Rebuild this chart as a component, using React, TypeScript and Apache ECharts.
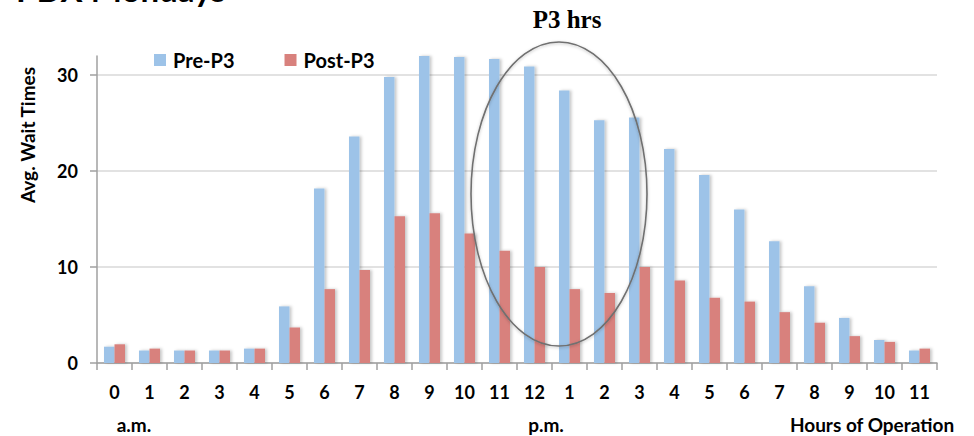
import React, { useEffect, useRef } from "react";
import * as echarts from "echarts";

const hours = ["0","1","2","3","4","5","6","7","8","9","10","11","12","1","2","3","4","5","6","7","8","9","10","11"];
const preP3 = [1.7,1.3,1.3,1.3,1.5,5.9,18.2,23.6,29.8,32.0,31.9,31.7,30.9,28.4,25.3,25.6,22.3,19.6,16.0,12.7,8.0,4.7,2.4,1.3];
const postP3 = [1.95,1.5,1.3,1.3,1.5,3.7,7.7,9.7,15.3,15.6,13.5,11.7,10.0,7.7,7.3,10.0,8.6,6.8,6.4,5.3,4.2,2.8,2.2,1.5];
const seriesNames = ["Pre-P3", "Post-P3"];

const FONT = "Lato, 'Open Sans', sans-serif";

export default function App() {
  const ref = useRef<HTMLDivElement>(null);
  useEffect(() => {
    if (!ref.current) return;
    const chart = echarts.init(ref.current, null, { renderer: "svg" });
    const barStyle = (color: string) => ({
      color,
      shadowBlur: 3,
      shadowColor: "rgba(0,0,0,0.22)",
      shadowOffsetX: 2,
      shadowOffsetY: 0,
    });
    chart.setOption({
      animation: false,
      backgroundColor: "#ffffff",
      textStyle: { fontFamily: FONT },
      grid: { left: 97, right: 37, top: 56, bottom: 73, containLabel: false },
      legend: {
        data: seriesNames,
        left: 149,
        top: 45,
        itemWidth: 12,
        itemHeight: 12,
        itemGap: 50,
        icon: "rect",
        textStyle: { fontFamily: FONT, fontWeight: "bold", fontSize: 20, color: "#000", padding: [0, 0, 0, 2] },
      },
      xAxis: {
        type: "category",
        data: hours,
        boundaryGap: true,
        axisLine: { lineStyle: { color: "#a0a0a0", width: 1.5 } },
        axisTick: { show: true, length: 7, lineStyle: { color: "#a0a0a0", width: 1.5 } },
        axisLabel: { color: "#000", fontWeight: "bold", fontSize: 18, fontFamily: FONT, margin: 20, interval: 0 },
        splitLine: { show: false },
      },
      yAxis: {
        type: "value",
        min: 0,
        max: 32,
        interval: 10,
        axisLine: { show: true, lineStyle: { color: "#a0a0a0", width: 1.5 } },
        axisTick: { show: true, length: 7, lineStyle: { color: "#a0a0a0", width: 1.5 } },
        axisLabel: { color: "#000", fontWeight: "bold", fontSize: 18, fontFamily: FONT, margin: 19, showMaxLabel: false },
        splitLine: { show: true, showMaxLine: false, lineStyle: { color: "#d9d9d9", width: 1.5 } },
      },
      series: [
        {
          name: seriesNames[0],
          type: "bar",
          data: preP3,
          barGap: "0%",
          barCategoryGap: "40%",
          itemStyle: barStyle("#9DC3E8"),
        },
        {
          name: seriesNames[1],
          type: "bar",
          data: postP3,
          barGap: "0%",
          barCategoryGap: "40%",
          itemStyle: barStyle("#D8817D"),
        },
      ],
      graphic: [
        {
          type: "text",
          left: 16,
          top: -28,
          style: { text: "PDX Mondays", font: `bold 33px ${FONT}`, fill: "#000" },
        },
        {
          type: "text",
          x: 27,
          y: 135,
          rotation: Math.PI / 2,
          style: {
            text: "Avg. Wait Times",
            font: `bold 19px ${FONT}`,
            fill: "#000",
            align: "center",
            verticalAlign: "middle",
          },
        },
        {
          type: "text",
          x: 567,
          y: 19,
          style: {
            text: "P3 hrs",
            font: "bold 25px 'Liberation Serif', 'DejaVu Serif', serif",
            fill: "#000",
            align: "center",
            verticalAlign: "middle",
          },
        },
        {
          type: "ellipse",
          shape: { cx: 559, cy: 194, rx: 88, ry: 152 },
          style: { fill: "none", stroke: "#707070", lineWidth: 1.6, shadowBlur: 3, shadowColor: "rgba(0,0,0,0.25)", shadowOffsetY: 1 },
          z: 100,
        },
        {
          type: "text",
          x: 134,
          y: 424,
          style: { text: "a.m.", font: `bold 19px ${FONT}`, fill: "#000", align: "center", verticalAlign: "middle" },
        },
        {
          type: "text",
          x: 546,
          y: 424,
          style: { text: "p.m.", font: `bold 19px ${FONT}`, fill: "#000", align: "center", verticalAlign: "middle" },
        },
        {
          type: "text",
          x: 872,
          y: 424,
          style: { text: "Hours of Operation", font: `bold 19px ${FONT}`, fill: "#000", align: "center", verticalAlign: "middle" },
        },
      ],
    });
    return () => chart.dispose();
  }, []);
  return <div ref={ref} style={{ width: 974, height: 436, position: "fixed", left: 0, top: 0 }} />;
}
